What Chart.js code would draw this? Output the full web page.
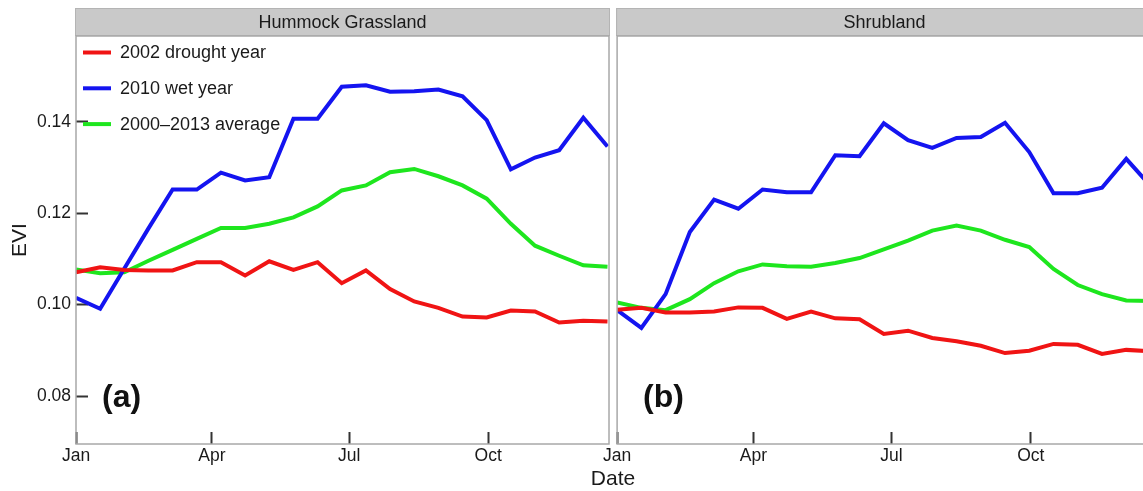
<!DOCTYPE html>
<html lang="en">
<head>
    <meta charset="UTF-8">
    <title>EVI by vegetation type</title>
    <script src="https://cdn.jsdelivr.net/npm/chart.js"></script>
    <style>
        html, body {
            margin: 0;
            padding: 0;
            background: #fff;
            overflow: hidden;
            font-family: "Liberation Sans", Arial, sans-serif;
        }
        .panel {
            position: absolute;
            top: 0;
            height: 491px;
        }
        #panelA { left: 0; width: 612px; }
        #panelB { left: 589px; width: 571px; }
        #dateLabel {
            position: absolute;
            left: 613px;
            top: 466px;
            transform: translateX(-50%);
            font-size: 21px;
            line-height: 24px;
            color: #1a1a1a;
        }
    </style>
</head>
<body>
    <div class="panel" id="panelA"><canvas id="grassChart"></canvas></div>
    <div class="panel" id="panelB"><canvas id="shrubChart"></canvas></div>
    <div id="dateLabel">Date</div>

    <script>
        // 16-day composite start days (day of year)
        const days = [1, 17, 33, 49, 65, 81, 97, 113, 129, 145, 161, 177, 193, 209, 225, 241, 257, 273, 289, 305, 321, 337, 353];

        // Hummock Grassland
        const grassDrought = [0.1071, 0.1082, 0.1076, 0.1075, 0.1075, 0.1093, 0.1093, 0.1064, 0.1095, 0.1076, 0.1093, 0.1047, 0.1075, 0.1034, 0.1007, 0.0993, 0.0974, 0.0972, 0.0987, 0.0985, 0.0961, 0.0965, 0.0963];
        const grassWet = [0.1015, 0.0991, 0.1079, 0.1167, 0.1252, 0.1252, 0.1289, 0.1272, 0.1279, 0.1407, 0.1407, 0.1477, 0.1480, 0.1466, 0.1467, 0.1471, 0.1456, 0.1404, 0.1296, 0.1322, 0.1338, 0.1409, 0.1346];
        const grassAvg = [0.1077, 0.1069, 0.1071, 0.1096, 0.1120, 0.1144, 0.1168, 0.1168, 0.1177, 0.1191, 0.1215, 0.1250, 0.1261, 0.1290, 0.1297, 0.1281, 0.1261, 0.1232, 0.1177, 0.1129, 0.1107, 0.1086, 0.1083];

        // Shrubland
        const shrubDrought = [0.0989, 0.0993, 0.0983, 0.0983, 0.0985, 0.0994, 0.0993, 0.0969, 0.0985, 0.0970, 0.0968, 0.0936, 0.0943, 0.0927, 0.0920, 0.0910, 0.0894, 0.0899, 0.0914, 0.0912, 0.0892, 0.0901, 0.0898];
        const shrubWet = [0.0988, 0.0949, 0.1023, 0.1159, 0.1230, 0.1210, 0.1252, 0.1246, 0.1246, 0.1327, 0.1325, 0.1397, 0.1360, 0.1343, 0.1365, 0.1367, 0.1398, 0.1334, 0.1244, 0.1244, 0.1256, 0.1319, 0.1260];
        const shrubAvg = [0.1005, 0.0993, 0.0988, 0.1012, 0.1047, 0.1073, 0.1088, 0.1084, 0.1083, 0.1091, 0.1102, 0.1121, 0.1140, 0.1162, 0.1173, 0.1162, 0.1142, 0.1126, 0.1078, 0.1043, 0.1023, 0.1009, 0.1008];

        // Axis ticks
        const monthDays = [1, 91, 182, 274];
        const monthLabels = ['Jan', 'Apr', 'Jul', 'Oct'];
        const eviTicks = [0.08, 0.10, 0.12, 0.14];

        const seriesNames = ['2002 drought year', '2010 wet year', '2000\u20132013 average'];
        const seriesColors = ['#f01414', '#1414f0', '#1ee61e'];

        const FONT = '"Liberation Sans", Arial, sans-serif';

        // Strip header, panel frame, panel tag and the inside legend
        const panelDecor = {
            id: 'panelDecor',
            beforeDraw(chart, args, opts) {
                const { ctx, chartArea } = chart;
                ctx.save();
                ctx.fillStyle = '#c9c9c9';
                ctx.fillRect(chartArea.left - 1, 8, chartArea.right - chartArea.left + 2, 28);
                ctx.strokeStyle = '#b4b4b4';
                ctx.lineWidth = 1;
                ctx.strokeRect(chartArea.left - 0.5, 8.5, chartArea.right - chartArea.left + 1, 27);
                ctx.fillStyle = '#1a1a1a';
                ctx.font = '18px ' + FONT;
                ctx.textAlign = 'center';
                ctx.textBaseline = 'middle';
                ctx.fillText(opts.strip, (chartArea.left + chartArea.right) / 2, 23);
                ctx.restore();
            },
            afterDatasetsDraw(chart, args, opts) {
                const { ctx, chartArea } = chart;
                ctx.save();
                // frame
                ctx.strokeStyle = '#a8a8a8';
                ctx.lineWidth = 1.5;
                ctx.strokeRect(chartArea.left, chartArea.top, chartArea.right - chartArea.left, chartArea.bottom - chartArea.top);
                // panel tag
                ctx.fillStyle = '#111';
                ctx.font = 'bold 32px ' + FONT;
                ctx.textAlign = 'left';
                ctx.textBaseline = 'middle';
                ctx.fillText(opts.tag, chartArea.left + 26, 398);
                // legend
                if (opts.legend) {
                    ctx.font = '18px ' + FONT;
                    chart.data.datasets.forEach((ds, i) => {
                        const y = chartArea.top + 16.5 + i * 35.8;
                        ctx.strokeStyle = ds.borderColor;
                        ctx.lineWidth = 4;
                        ctx.beginPath();
                        ctx.moveTo(chartArea.left + 7, y);
                        ctx.lineTo(chartArea.left + 35, y);
                        ctx.stroke();
                        ctx.fillStyle = '#1a1a1a';
                        ctx.fillText(ds.label, chartArea.left + 44, y + 1);
                    });
                }
                ctx.restore();
            }
        };

        function makeDatasets(drought, wet, avg) {
            return [drought, wet, avg].map((vals, i) => ({
                label: seriesNames[i],
                data: days.map((d, j) => ({ x: d, y: vals[j] })),
                borderColor: seriesColors[i],
                backgroundColor: seriesColors[i],
                borderWidth: 4,
                pointRadius: 0,
                tension: 0,
                fill: false
            }));
        }

        function makeOptions(strip, tag, isFirst) {
            return {
                responsive: true,
                maintainAspectRatio: false,
                animation: false,
                layout: { padding: { left: isFirst ? 0 : 28, right: isFirst ? 3 : 8, top: 36, bottom: 0 } },
                plugins: {
                    legend: { display: false },
                    tooltip: { enabled: false },
                    panelDecor: { strip: strip, tag: tag, legend: isFirst }
                },
                scales: {
                    x: {
                        type: 'linear',
                        min: 1,
                        max: 354,
                        afterBuildTicks: axis => { axis.ticks = monthDays.map(v => ({ value: v })); },
                        afterFit: axis => { axis.height = 47; },
                        ticks: {
                            autoSkip: false,
                            maxRotation: 0,
                            padding: 14,
                            color: '#1a1a1a',
                            font: { family: FONT, size: 17.5 },
                            callback: v => monthLabels[monthDays.indexOf(v)]
                        },
                        grid: { drawOnChartArea: false, drawTicks: true, tickLength: -12, tickColor: '#333', tickWidth: 2 },
                        border: { display: false }
                    },
                    y: {
                        display: isFirst,
                        min: 0.0695,
                        max: 0.1588,
                        afterBuildTicks: axis => { axis.ticks = eviTicks.map(v => ({ value: v })); },
                        afterFit: axis => { axis.width = isFirst ? 76 : 0; },
                        title: { display: true, text: 'EVI', color: '#1a1a1a', font: { family: FONT, size: 21 }, padding: 8 },
                        ticks: {
                            padding: 17,
                            color: '#1a1a1a',
                            font: { family: FONT, size: 17.5 },
                            callback: v => v.toFixed(2)
                        },
                        grid: { drawOnChartArea: false, drawTicks: true, tickLength: -12, tickColor: '#333', tickWidth: 2 },
                        border: { display: false }
                    }
                }
            };
        }

        new Chart(document.getElementById('grassChart'), {
            type: 'line',
            data: { datasets: makeDatasets(grassDrought, grassWet, grassAvg) },
            options: makeOptions('Hummock Grassland', '(a)', true),
            plugins: [panelDecor]
        });

        new Chart(document.getElementById('shrubChart'), {
            type: 'line',
            data: { datasets: makeDatasets(shrubDrought, shrubWet, shrubAvg) },
            options: makeOptions('Shrubland', '(b)', false),
            plugins: [panelDecor]
        });
    </script>
</body>
</html>
